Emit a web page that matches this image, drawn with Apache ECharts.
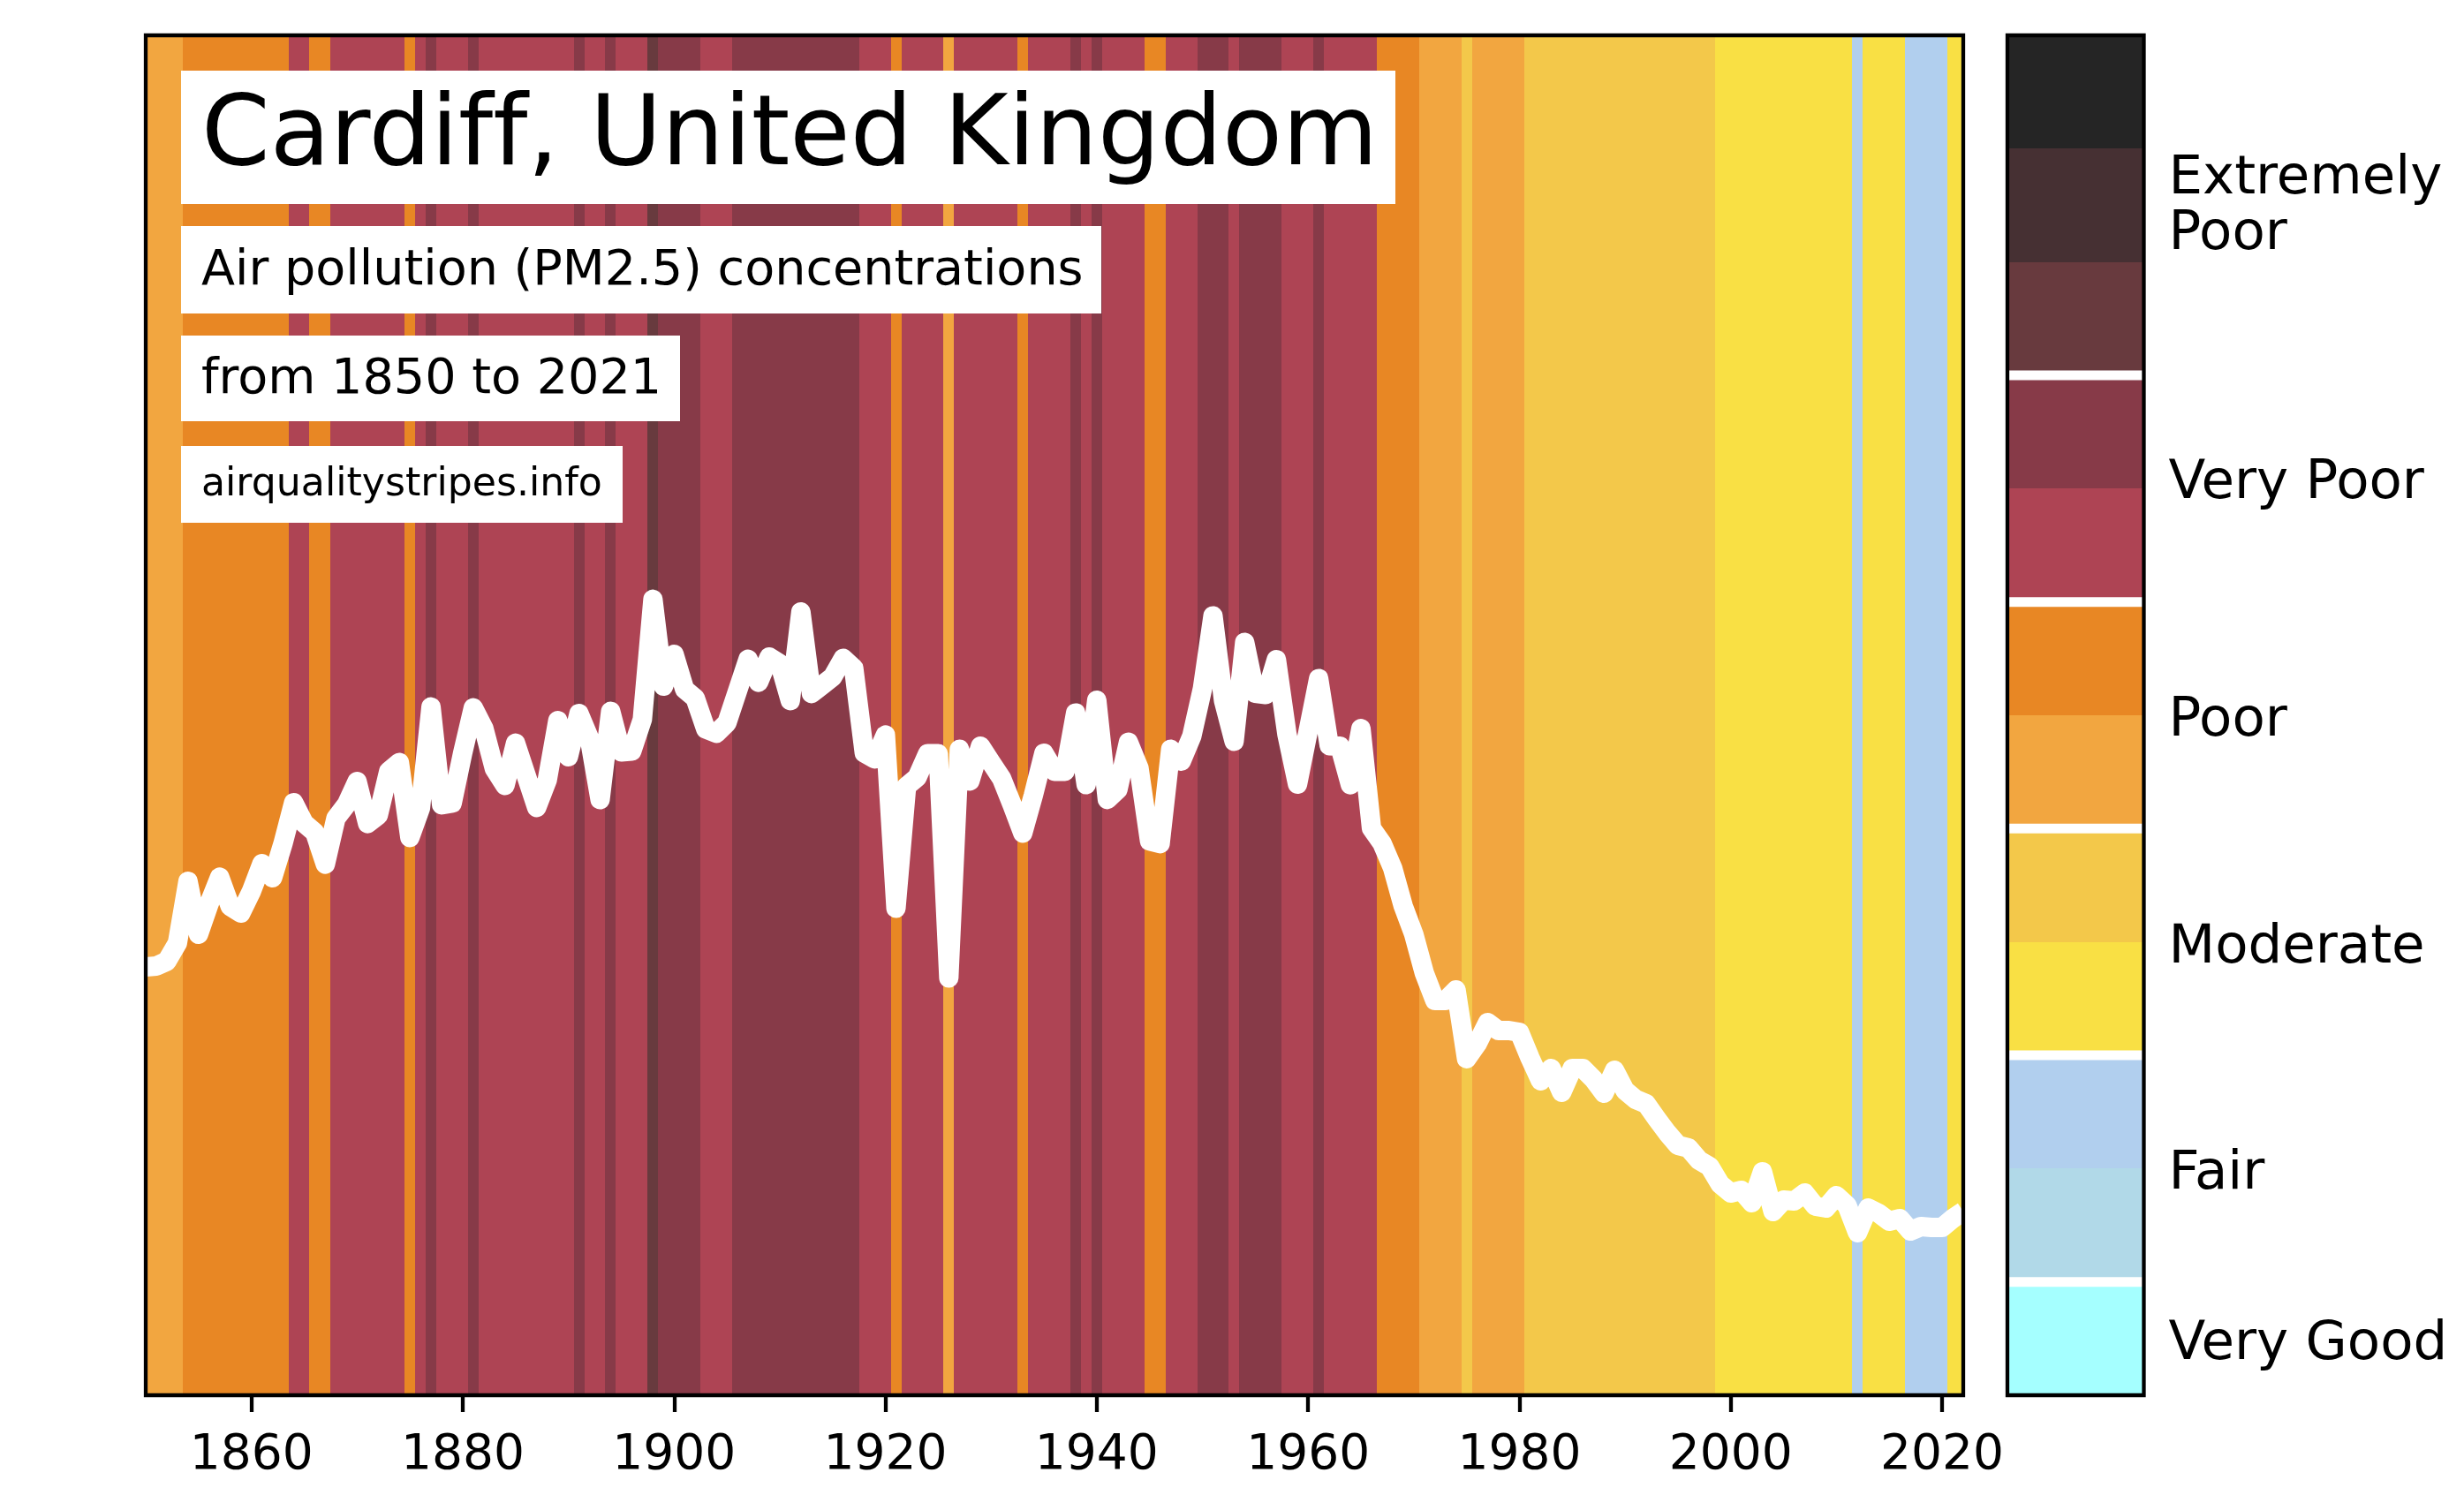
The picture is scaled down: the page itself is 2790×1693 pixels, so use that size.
<!DOCTYPE html>
<html>
<head>
<meta charset="utf-8">
<style>html,body{margin:0;padding:0;background:#fff;overflow:hidden}#c{width:2790px;height:1693px}</style>
<script src="https://cdn.jsdelivr.net/npm/echarts@6/dist/echarts.min.js"></script>
</head>
<body>
<div id="c"></div>
<script>
const FONT = '"DejaVu Sans"';
const years = [];
for (let y = 1850; y <= 2022; y++) years.push(y);

// PM2.5 estimate per year, 1850..2022
const pm25 = [
24.25,24.3,24.57,25.6,29.1,26.1,27.83,29.33,27.68,27.3,
28.53,30.1,29.3,31.25,33.55,32.38,31.87,30.07,32.67,33.45,
34.75,32.37,32.83,35.33,35.83,31.58,33.25,38.97,33.43,33.53,
36.38,38.92,37.75,35.47,34.53,36.92,35.1,33.28,34.83,38.2,
36.15,38.6,37.17,33.72,38.72,36.42,36.47,38.27,45.07,40.15,
41.95,39.97,39.47,37.72,37.48,38.07,39.87,41.67,40.37,41.8,
41.42,39.33,44.35,39.73,40.2,40.67,41.72,41.17,36.37,36.03,
37.38,27.57,34.48,34.98,36.33,36.32,23.62,36.57,34.78,36.75,
35.83,34.92,33.42,31.83,33.97,36.35,35.33,35.33,38.63,34.57,
39.35,33.73,34.3,36.97,35.5,31.38,31.23,36.58,35.9,37.33,
40,44.13,39.33,37.03,42.63,39.75,39.67,41.65,37.42,34.6,
37.58,40.58,36.78,36.75,34.57,37.75,32.1,31.25,29.85,27.7,
26.1,23.9,22.35,22.35,22.95,19.05,19.9,21.1,20.65,20.65,
20.55,19.1,17.8,18.5,17.15,18.5,18.5,17.9,17.1,18.4,
17.25,16.75,16.5,15.65,14.85,14.15,14,13.3,12.95,11.95,
11.45,11.6,10.9,12.65,10.4,11.05,11,11.45,10.7,10.6,
11.3,10.75,9.2,10.6,10.3,9.85,10,9.3,9.55,9.5,
9.5,10,10.4
];

// Colour levels, lowest first
const levelColors = ['#a5ffff','#b1d9e8','#b1cfee','#f9e044','#f3c84a','#f2a640','#e88724',
                     '#ae4454','#873a48','#683a3e','#463033','#252525'];
// White separators in the colour bar (between levels)
const levelBreaks = [1,3,5,7,9];
const bandNames = ['Very Good','Fair','Moderate','Poor','Very Poor','Extremely\nPoor'];
const bandLabelAt = [0.445,1.945,3.945,5.945,8.04,10.485];

// Stripes: first year of each run and its colour level
const stripeStarts = [1850,1854,1864,1866,1868,1875,1876,1877,1878,1881,1882,1891,1892,1894,1895,1898,1899,1903,1906,1918,1921,1922,1926,1927,1933,1934,1938,1939,1940,1941,1945,1947,1950,1953,1954,1958,1961,1962,1967,1971,1975,1976,1981,1999,2012,2013,2017,2021];
const stripeLevels = [5,6,7,6,7,6,7,8,7,8,7,8,7,8,7,9,8,7,8,7,6,7,5,7,6,7,8,7,8,7,6,7,8,7,8,7,8,7,6,5,4,5,4,3,2,3,2,3];
const stripeEnd = 2023;

const tickYears = [1860,1880,1900,1920,1940,1960,1980,2000,2020];
const titleText = 'Cardiff, United Kingdom';
const subLines = ['Air pollution (PM2.5) concentrations','from 1850 to 2021','airqualitystripes.info'];

// The reference text has no "ff" ligature: a tiny letter spacing turns ligatures off in canvas text.
const baseGetContext = HTMLCanvasElement.prototype.getContext;
HTMLCanvasElement.prototype.getContext = function(type, opts){
  const ctx = baseGetContext.call(this, type, opts);
  if (type === '2d' && ctx && 'letterSpacing' in ctx) ctx.letterSpacing = '0.001px';
  return ctx;
};

const stripeData = stripeStarts.map((s,i)=>[s-0.5,(i+1<stripeStarts.length?stripeStarts[i+1]:stripeEnd)-0.5,stripeLevels[i]]);
const cellData = levelColors.map((c,i)=>[i,i+1]);

function renderStripe(params, api){
  const a = api.coord([api.value(0),0]), b = api.coord([api.value(1),77]);
  const cs = params.coordSys;
  // whole-pixel edges so neighbouring stripes leave no pale seam
  const x0 = Math.round(Math.max(a[0],cs.x)), x1 = Math.round(Math.min(b[0],cs.x+cs.width));
  return {type:'rect',shape:{x:x0,y:cs.y,width:x1-x0,height:cs.height},style:{fill:levelColors[api.value(2)]}};
}
function renderCell(params, api){
  const a = api.coord([0,api.value(0)]), b = api.coord([1,api.value(1)]);
  const y0 = Math.round(b[1]), y1 = Math.round(a[1]);
  return {type:'rect',shape:{x:a[0],y:y0,width:b[0]-a[0],height:y1-y0},style:{fill:levelColors[params.dataIndex]}};
}
function renderBreak(params, api){
  const a = api.coord([0,api.value(0)]), b = api.coord([1,api.value(0)]);
  return {type:'line',shape:{x1:a[0],y1:a[1],x2:b[0],y2:b[1]},style:{stroke:'#fff',lineWidth:11}};
}
function box(x,y,w,h){ return {type:'rect',z:20,shape:{x,y,width:w,height:h},style:{fill:'#fff'},silent:true}; }
function label(text,x,y,size){ return {type:'text',z:21,x,y,silent:true,style:{text,fill:'#000',font:size+'px '+FONT,textAlign:'left',textVerticalAlign:'middle'}}; }

const chart = echarts.init(document.getElementById('c'),null,{renderer:'canvas',width:2790,height:1693,devicePixelRatio:1});
chart.setOption({
  animation:false,
  backgroundColor:'#fff',
  textStyle:{fontFamily:FONT},
  grid:[
    {left:165,top:40,width:2058,height:1540,show:true,z:10,backgroundColor:'transparent',borderColor:'#000',borderWidth:4.3},
    {left:2273,top:40,width:154.5,height:1540,show:true,z:10,backgroundColor:'transparent',borderColor:'#000',borderWidth:4.3}
  ],
  xAxis:[
    {type:'value',gridIndex:0,min:1850,max:2022,z:11,
     axisLine:{show:false},splitLine:{show:false},
     axisTick:{show:true,length:19,inside:false,lineStyle:{color:'#000',width:4.3},customValues:tickYears},
     axisLabel:{show:true,color:'#000',fontSize:55,fontFamily:FONT,margin:41,customValues:tickYears,formatter:v=>String(v)}},
    {type:'value',gridIndex:1,min:0,max:1,show:false}
  ],
  yAxis:[
    {type:'value',gridIndex:0,min:0,max:77,show:false},
    {type:'value',gridIndex:1,min:0,max:12,position:'right',
     axisLine:{show:false},axisTick:{show:false},splitLine:{show:false},
     axisLabel:{show:true,color:'#000',fontSize:61,fontFamily:FONT,margin:28,align:'left',lineHeight:63,
       customValues:bandLabelAt,formatter:v=>bandNames[bandLabelAt.indexOf(v)]}}
  ],
  series:[
    {type:'custom',name:'stripes',xAxisIndex:0,yAxisIndex:0,z:1,silent:true,clip:true,data:stripeData,renderItem:renderStripe,encode:{x:[0,1]}},
    {type:'line',name:'PM2.5',xAxisIndex:0,yAxisIndex:0,z:2,silent:true,symbol:'none',smooth:false,
     lineStyle:{color:'#fff',width:22,join:'round',cap:'butt'},
     data:years.map((y,i)=>[y,pm25[i]])},
    {type:'custom',name:'scale',xAxisIndex:1,yAxisIndex:1,z:1,silent:true,data:cellData,renderItem:renderCell,encode:{y:[0,1]}},
    {type:'custom',name:'breaks',xAxisIndex:1,yAxisIndex:1,z:2,silent:true,data:levelBreaks.map(v=>[v]),renderItem:renderBreak,encode:{y:0}}
  ],
  graphic:[
    box(205,80,1375,151),box(205,256,1042,99),box(205,380,565,97),box(205,505,500,87),
    label(titleText,228,157,111.2),
    label(subLines[0],228,308,55.6),
    label(subLines[1],228,431,55.6),
    label(subLines[2],228,550,44.2)
  ]
});
</script>
</body>
</html>
